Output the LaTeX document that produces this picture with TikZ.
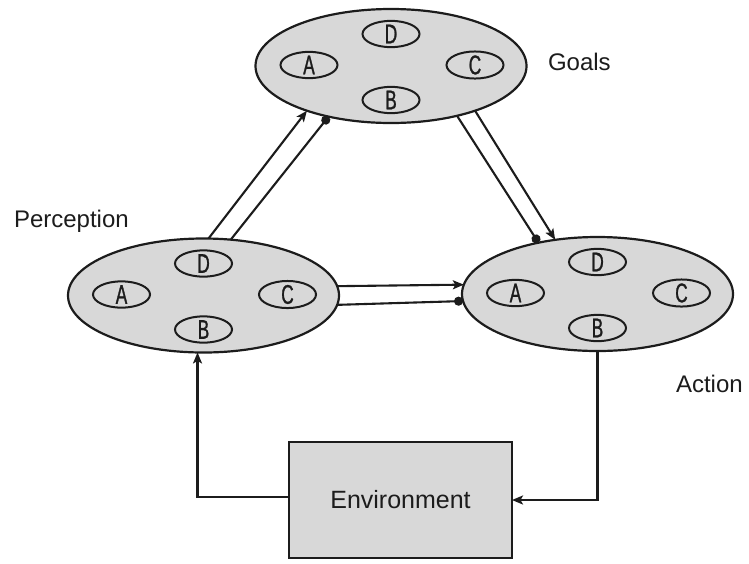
\documentclass[tikz,border=0pt]{standalone}
\usepackage{fontspec}
\setmainfont{Liberation Sans}
\newfontfamily\narrowfont[FakeStretch=0.64,FakeBold=1]{Liberation Sans}
\usetikzlibrary{shapes.geometric,arrows.meta,calc}
\definecolor{panelgray}{RGB}{216,216,216}
\definecolor{inkgray}{RGB}{28,28,28}

\begin{document}
\begin{tikzpicture}[x=1pt,y=-1pt,
  every node/.style={inner sep=0pt, outer sep=0pt},
  stagebox/.style={ellipse, draw=inkgray, line width=2.2pt, fill=panelgray,
    minimum width=271pt, minimum height=114pt},
  unitbox/.style={ellipse, draw=inkgray, line width=2pt,
    minimum width=57pt, minimum height=24pt,
    font=\narrowfont\fontsize{27}{27}\selectfont, text=inkgray},
  envbox/.style={rectangle, draw=inkgray, line width=2.2pt, fill=panelgray,
    minimum width=223pt, minimum height=116pt,
    font=\fontsize{25}{25}\selectfont, text=inkgray},
  titletext/.style={font=\fontsize{24}{24}\selectfont, text=inkgray},
  plainlink/.style={line width=2.1pt, draw=inkgray},
  arrowlink/.style={plainlink, -{Stealth[length=11pt,width=9pt,inset=2.5pt]}},
  dotlink/.style={plainlink, -{Circle[length=9pt]}},
]
\useasboundingbox (0,0) rectangle (749,563);

% the three stages
\node[stagebox] (goals) at (391,66) {};
\node[stagebox] (perc)  at (203.5,295.5) {};
\node[stagebox] (act)   at (597.5,294) {};

% four units inside each stage
\foreach \s in {goals,perc,act} {
  \node[unitbox] (\s-A) at ($(\s)+(-82,-1)$) {A};
  \node[unitbox] (\s-C) at ($(\s)+(84,-1)$)  {C};
  \node[unitbox] (\s-D) at ($(\s)+(0,-32)$)  {D};
  \node[unitbox] (\s-B) at ($(\s)+(0,34)$)   {B};
}

% environment
\node[envbox] (env) at (400.5,500) {Environment};

% stage names
\node[titletext, anchor=base west] at (548,70)  {Goals};
\node[titletext, anchor=base west] at (14,227)  {Perception};
\node[titletext, anchor=base west] at (676,392) {Action};

% perception -> goals
\draw[arrowlink] (perc.85.9) -- (goals.208.8);
\draw[dotlink]   (perc.64)   -- (goals.219.6);

% goals -> action
\draw[dotlink]   (goals.323.5) -- (act.139.8);
\draw[arrowlink] (goals.332.2) -- (act.128.6);

% perception -> action
\draw[arrowlink] (perc.4.4)   -- (act.176.2);
\draw[dotlink]   (perc.356.8) -- (act.183.7);

% loop through the environment
\draw[arrowlink] (act.south) |- (env.east);
\draw[arrowlink] ($(env.west)+(0,-3)$) -| (perc.264.4);
\end{tikzpicture}
\end{document}
